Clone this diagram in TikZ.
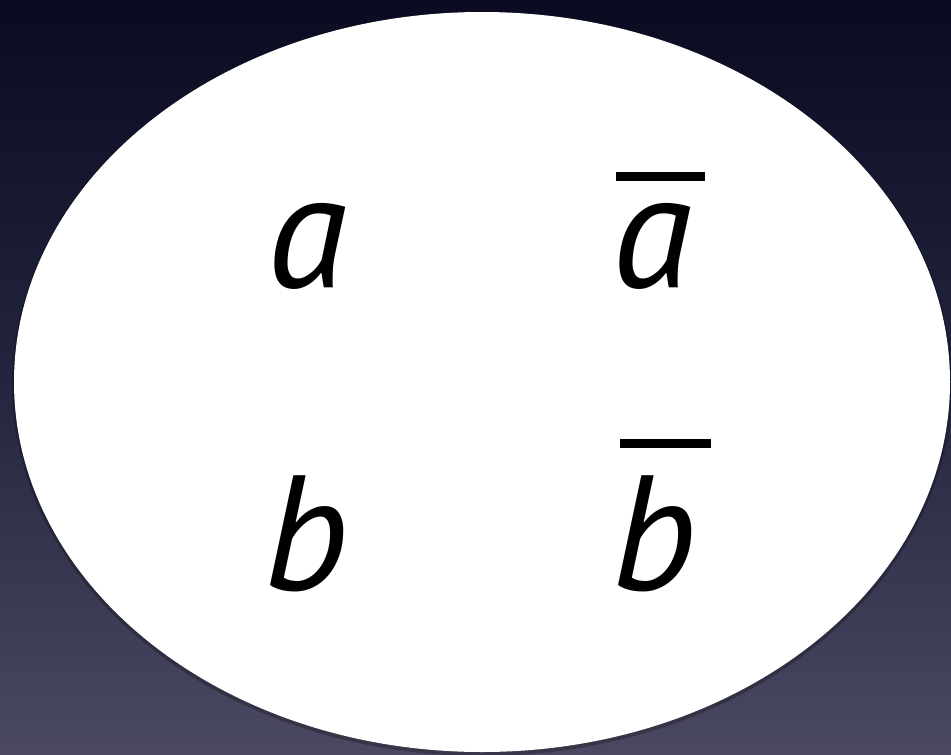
\documentclass[tikz,border=0pt]{standalone}
\usepackage{fontspec}
\setmainfont{PT Sans}
\usepackage{xcolor}
\usetikzlibrary{positioning, calc}

\definecolor{bgtop}{HTML}{0A0B20}
\definecolor{bgmid}{HTML}{23253F}
\definecolor{bgbot}{HTML}{4B4962}

\tikzset{
    letter/.style={anchor=base, inner sep=0pt, font=\fontsize{164}{170}\selectfont\itshape},
    overbar/.style={line width=9pt, black}
}

\begin{document}
\begin{tikzpicture}[x=1pt, y=-1pt]
    % background
    \useasboundingbox (0,0) rectangle (951,755);
    \shade[top color=bgtop, bottom color=bgbot, middle color=bgmid] (0,0) rectangle (951,755);

    % soft shadow and white disk
    \fill[black, opacity=0.25] (482,384) ellipse (470 and 372);
    \fill[white] (482,382) ellipse (468 and 370);

    % letters
    \node[letter] (a) at (307,287) {a};
    \node[letter] (abar) at (652,287) {a};
    \node[letter] (b) at (306,590) {b};
    \node[letter] (bbar) at (654,590) {b};

    % bars over the negated letters
    \draw[overbar] ([shift={(4,-26)}]abar.north west) -- ([shift={(13,-26)}]abar.north east);
    \draw[overbar] ([shift={(9,-32)}]bbar.north west) -- ([shift={(14,-32)}]bbar.north east);
\end{tikzpicture}
\end{document}
